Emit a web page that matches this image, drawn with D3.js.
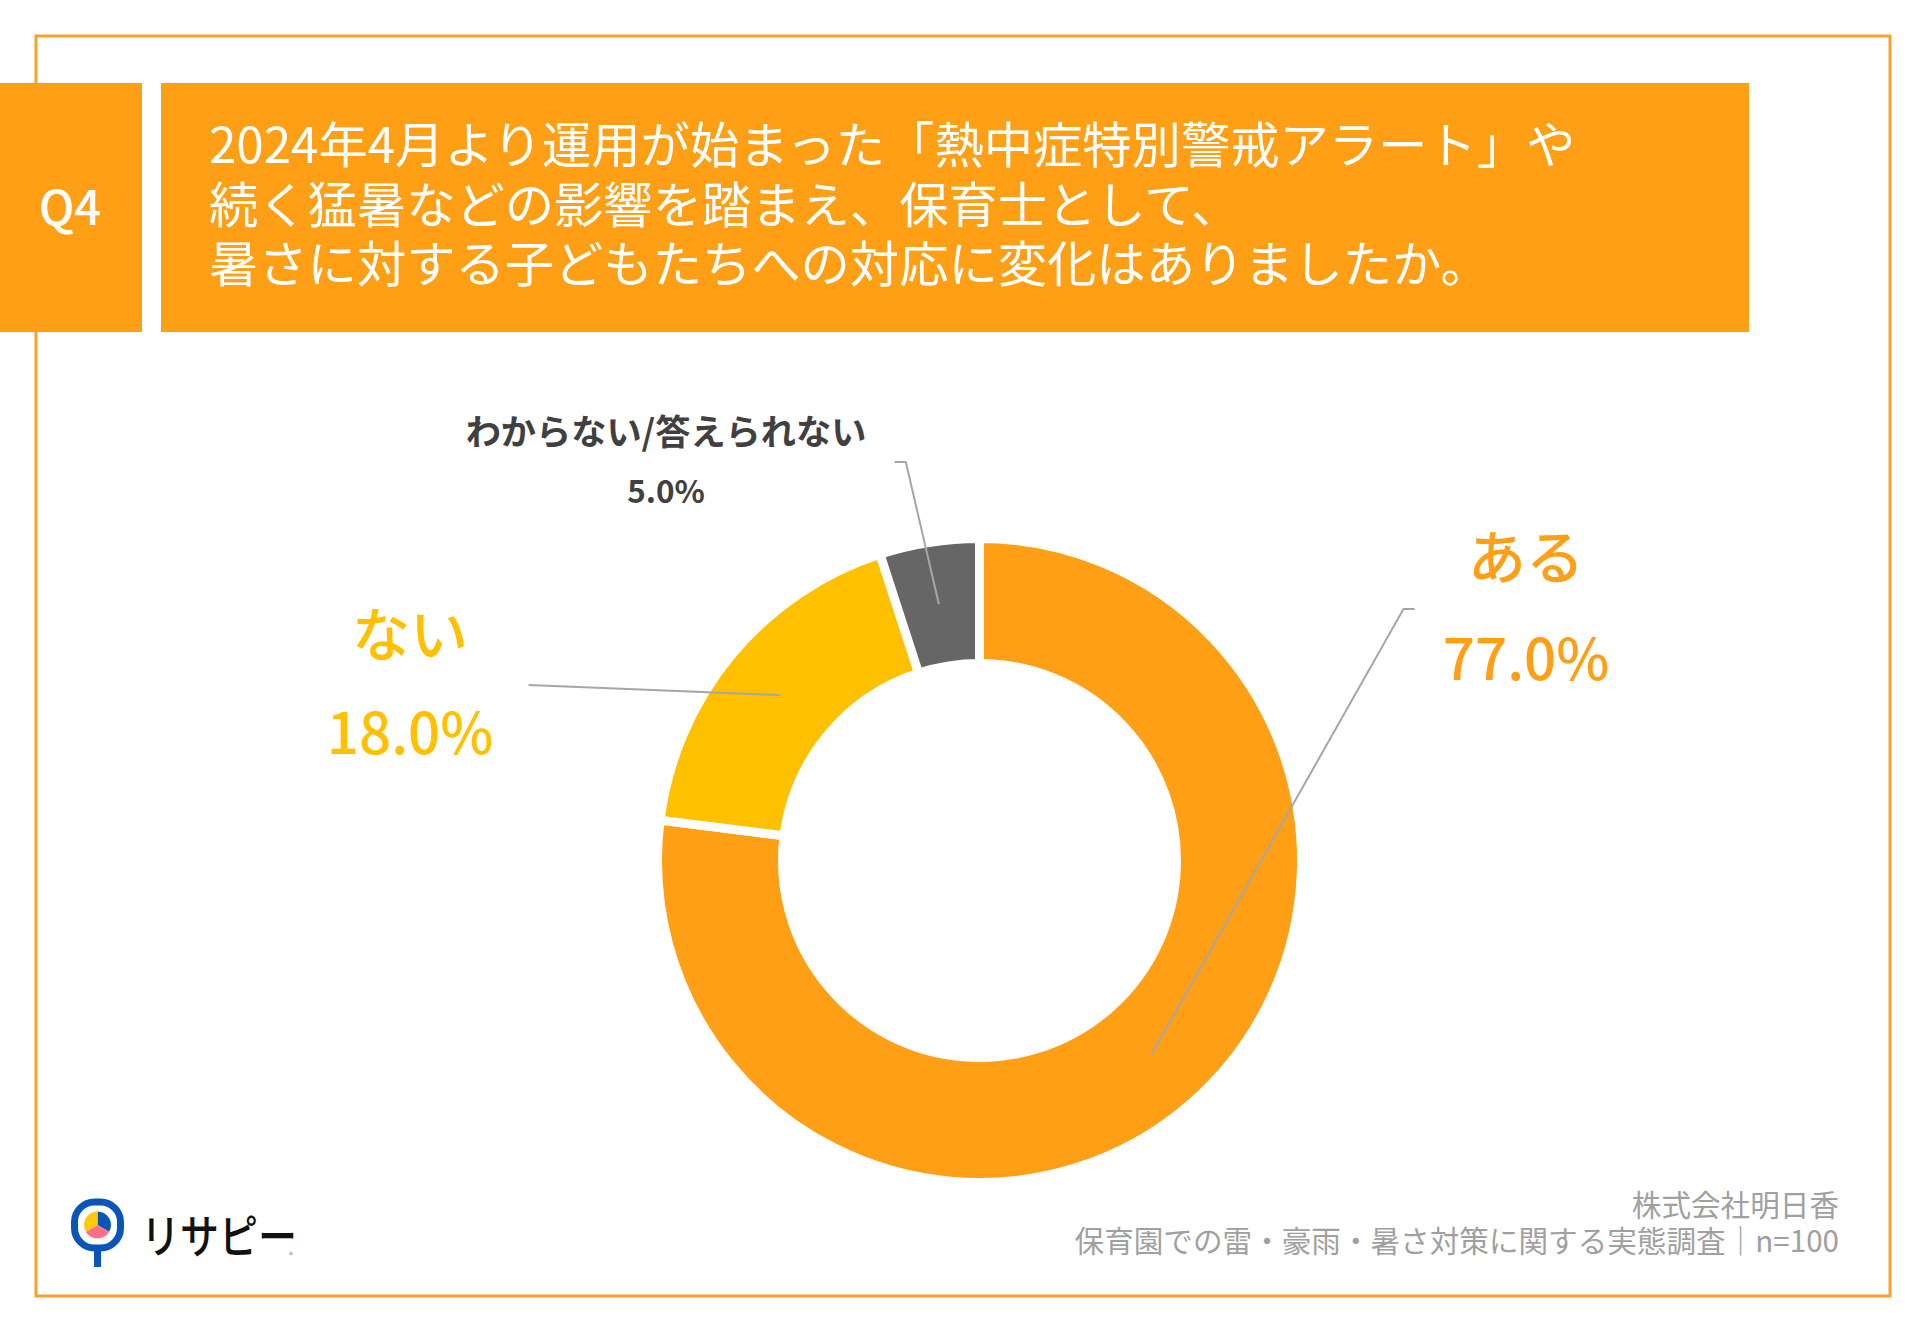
<!DOCTYPE html>
<html lang="ja">
<head>
<meta charset="utf-8">
<title>Q4</title>
<script src="https://cdn.jsdelivr.net/npm/d3@7"></script>
<style>
  html, body { margin: 0; padding: 0; background: #fff; }
  svg { display: block; }
  text { font-family: "Noto Sans CJK JP", "Noto Sans", sans-serif; }
</style>
</head>
<body>
<div id="chart-container"></div>
<script>
// Chart values
var categories = ["ある", "ない", "わからない/答えられない"];
var values = [77.0, 18.0, 5.0];
var titleLines = [
    "2024年4月より運用が始まった「熱中症特別警戒アラート」や",
    "続く猛暑などの影響を踏まえ、保育士として、",
    "暑さに対する子どもたちへの対応に変化はありましたか。"
];
var sourceLines = [
    "株式会社明日香",
    "保育園での雷・豪雨・暑さ対策に関する実態調査｜n=100"
];

var orange = "#ff9f15";
var yellow = "#ffc000";
var gray = "#666666";
var leaderColor = "#a6a6a6";
var frameColor = "#f6a22c";

// Label placement, one entry per category
var labelLayout = [
    { x: 1526, nameY: 579, valueY: 680, nameSize: 58, valueSize: 56.5, nameColor: orange, weight: 500, leader: [[1414.6, 609], [1403.5, 609]] },
    { x: 410, nameY: 656, valueY: 754, nameSize: 58, valueSize: 56.5, nameColor: yellow, weight: 500, leader: [[528.6, 685]] },
    { x: 666, nameY: 445, valueY: 503, nameSize: 35.2, valueSize: 31.5, nameColor: "#404040", weight: 600, leader: [[894.6, 462], [905.8, 462]] }
];

// Create SVG container
var svg = d3.select("#chart-container")
            .append("svg")
            .attr("width", 1920)
            .attr("height", 1329);

// Outer frame
svg.append("rect")
   .attr("x", 36)
   .attr("y", 36)
   .attr("width", 1854)
   .attr("height", 1260)
   .attr("fill", "none")
   .attr("stroke", frameColor)
   .attr("stroke-width", 3);

// Header boxes
svg.append("rect")
   .attr("x", 0)
   .attr("y", 83)
   .attr("width", 142)
   .attr("height", 249)
   .attr("fill", orange);

svg.append("rect")
   .attr("x", 161)
   .attr("y", 83)
   .attr("width", 1588)
   .attr("height", 249)
   .attr("fill", orange);

svg.append("text")
   .attr("x", 70)
   .attr("y", 225)
   .attr("text-anchor", "middle")
   .attr("font-size", "47px")
   .attr("font-weight", 500)
   .attr("fill", "#fff")
   .text("Q4");

svg.selectAll("text.title")
   .data(titleLines)
   .enter()
   .append("text")
   .attr("class", "title")
   .attr("x", 209)
   .attr("y", function(d, i) { return 163 + i * 59.5; })
   .attr("font-size", "49.3px")
   .attr("fill", "#fff")
   .text(function(d) { return d; });

// Donut
var colorScale = d3.scaleOrdinal()
                   .domain(categories)
                   .range([orange, yellow, gray]);

var pie = d3.pie().sort(null);

var arc = d3.arc()
            .innerRadius(197)
            .outerRadius(322);

var slices = pie(values);

var donut = svg.append("g")
               .attr("transform", "translate(979.5, 860.5)");

donut.selectAll("path")
     .data(slices)
     .enter()
     .append("path")
     .attr("d", arc)
     .attr("fill", function(d, i) { return colorScale(categories[i]); })
     .attr("stroke", "#fff")
     .attr("stroke-width", 9);

// Leader lines run from the label to the middle of each slice
var line = d3.line();

svg.selectAll("path.leader")
   .data(slices)
   .enter()
   .append("path")
   .attr("class", "leader")
   .attr("d", function(d, i) {
       var c = arc.centroid(d);
       return line(labelLayout[i].leader.concat([[c[0] + 979.5, c[1] + 860.5]]));
   })
   .attr("fill", "none")
   .attr("stroke", leaderColor)
   .attr("stroke-width", 2);

// Category names and percentages
svg.selectAll("text.name")
   .data(categories)
   .enter()
   .append("text")
   .attr("class", "name")
   .attr("x", function(d, i) { return labelLayout[i].x; })
   .attr("y", function(d, i) { return labelLayout[i].nameY; })
   .attr("text-anchor", "middle")
   .attr("font-size", function(d, i) { return labelLayout[i].nameSize + "px"; })
   .attr("font-weight", function(d, i) { return labelLayout[i].weight; })
   .attr("fill", function(d, i) { return labelLayout[i].nameColor; })
   .text(function(d) { return d; });

svg.selectAll("text.value")
   .data(values)
   .enter()
   .append("text")
   .attr("class", "value")
   .attr("x", function(d, i) { return labelLayout[i].x; })
   .attr("y", function(d, i) { return labelLayout[i].valueY; })
   .attr("text-anchor", "middle")
   .attr("font-size", function(d, i) { return labelLayout[i].valueSize + "px"; })
   .attr("font-weight", function(d, i) { return labelLayout[i].weight; })
   .attr("fill", function(d, i) { return labelLayout[i].nameColor; })
   .text(function(d) { return d3.format(".1f")(d) + "%"; });

// Source note
svg.selectAll("text.source")
   .data(sourceLines)
   .enter()
   .append("text")
   .attr("class", "source")
   .attr("x", 1839)
   .attr("y", function(d, i) { return 1216 + i * 36; })
   .attr("text-anchor", "end")
   .attr("font-size", "29.6px")
   .attr("fill", "#a0a0a0")
   .text(function(d) { return d; });

// Logo
var logo = svg.append("g")
              .attr("transform", "translate(97.5, 1225)");

logo.append("rect")
    .attr("x", -3.5)
    .attr("y", 20)
    .attr("width", 7)
    .attr("height", 22)
    .attr("fill", "#0a55b8");

logo.append("rect")
    .attr("x", -23)
    .attr("y", -23)
    .attr("width", 46)
    .attr("height", 46)
    .attr("rx", 20)
    .attr("fill", "#fff")
    .attr("stroke", "#0a55b8")
    .attr("stroke-width", 7);

var logoColors = ["#0a55b8", "#ff6f88", "#ffc90a"];
var logoArc = d3.arc().innerRadius(0).outerRadius(13.5);

logo.selectAll("path")
    .data(d3.pie().sort(null)([1, 1, 1]))
    .enter()
    .append("path")
    .attr("d", logoArc)
    .attr("fill", function(d, i) { return logoColors[i]; });

svg.append("text")
   .attr("x", 141)
   .attr("y", 1253)
   .attr("font-size", "46px")
   .attr("font-weight", 500)
   .attr("textLength", 156)
   .attr("lengthAdjust", "spacingAndGlyphs")
   .attr("fill", "#111")
   .text("リサピー");

svg.append("text")
   .attr("x", 291)
   .attr("y", 1258)
   .attr("text-anchor", "middle")
   .attr("font-size", "8px")
   .attr("fill", "#777")
   .text("®");
</script>
</body>
</html>
